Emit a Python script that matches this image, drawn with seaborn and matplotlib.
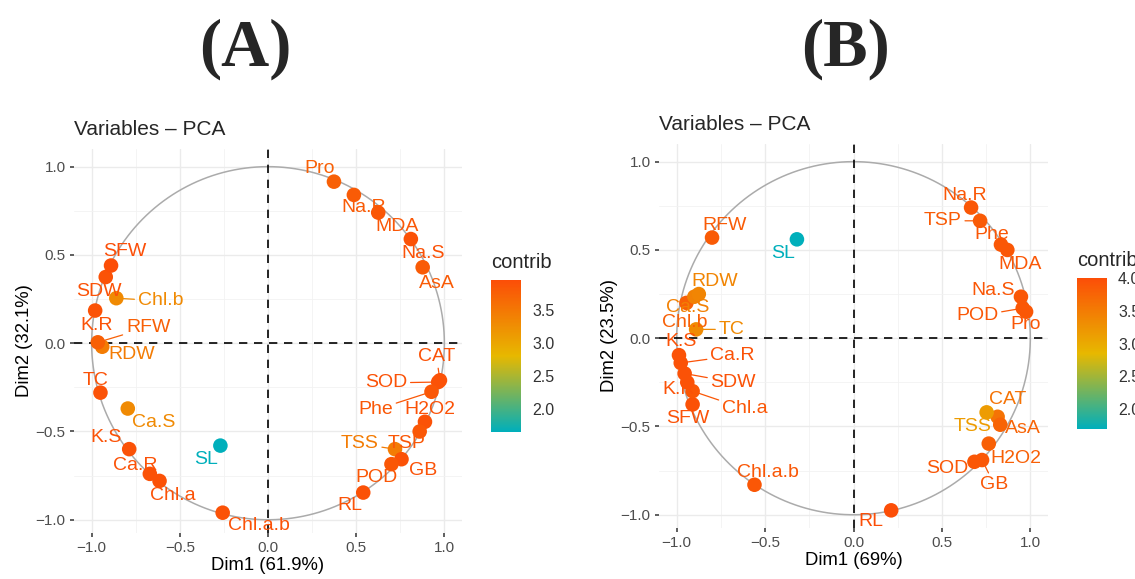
import numpy as np
import pandas as pd
import seaborn as sns
import matplotlib
matplotlib.use("Agg")
from matplotlib import pyplot as plt
from matplotlib.colors import LinearSegmentedColormap, Normalize
import matplotlib.ticker as mtick

# ---- data: panel A ----
vars_a = ["Pro", "Na.R", "MDA", "Na.S", "AsA", "CAT", "SOD", "Phe", "H2O2", "TSP",
          "TSS", "GB", "POD", "RL", "Chl.a.b", "SL", "Chl.a", "Ca.R", "K.S", "Ca.S",
          "TC", "RDW", "RFW", "K.R", "Chl.b", "SDW", "SFW"]
dim1_a = [0.374, 0.487, 0.625, 0.81, 0.877, 0.975, 0.965, 0.927, 0.89, 0.86,
          0.72, 0.757, 0.70, 0.54, -0.257, -0.27, -0.615, -0.67, -0.787, -0.795,
          -0.95, -0.94, -0.965, -0.98, -0.86, -0.92, -0.89]
dim2_a = [0.915, 0.84, 0.74, 0.59, 0.43, -0.21, -0.22, -0.275, -0.445, -0.50,
          -0.60, -0.657, -0.685, -0.846, -0.96, -0.58, -0.78, -0.74, -0.60, -0.37,
          -0.28, -0.02, 0.005, 0.185, 0.255, 0.375, 0.44]
contrib_a = [3.75, 3.8, 3.85, 3.9, 3.8, 3.9, 3.9, 3.85, 3.9, 3.85,
             3.45, 3.9, 3.85, 3.9, 3.9, 1.65, 3.9, 3.9, 3.9, 3.3,
             3.9, 3.45, 3.75, 3.9, 3.3, 3.9, 3.95]

# ---- data: panel B ----
vars_b = ["Na.R", "TSP", "Phe", "MDA", "Na.S", "POD", "Pro", "CAT", "TSS", "AsA",
          "H2O2", "SOD", "GB", "RL", "Chl.a.b", "SFW", "Chl.a", "K.R", "SDW", "Ca.R",
          "K.S", "Chl.b", "Ca.S", "RDW", "TC", "RFW", "SL"]
dim1_b = [0.665, 0.716, 0.834, 0.87, 0.947, 0.957, 0.976, 0.815, 0.753, 0.83,
          0.765, 0.684, 0.727, 0.213, -0.56, -0.91, -0.91, -0.94, -0.955, -0.977,
          -0.987, -0.945, -0.90, -0.875, -0.89, -0.80, -0.32]
dim2_b = [0.74, 0.665, 0.53, 0.50, 0.235, 0.17, 0.15, -0.445, -0.42, -0.49,
          -0.597, -0.70, -0.69, -0.975, -0.83, -0.375, -0.30, -0.25, -0.20, -0.14,
          -0.096, 0.20, 0.235, 0.25, 0.05, 0.57, 0.56]
contrib_b = [3.9, 3.85, 3.9, 3.9, 3.9, 3.9, 3.9, 3.6, 3.15, 3.75,
             3.8, 3.9, 3.9, 4.0, 3.9, 3.95, 3.9, 3.95, 3.95, 3.95,
             3.95, 3.8, 3.45, 3.4, 3.35, 3.85, 1.7]

# ---- label placement (repel-like positions) ----
lab_a = {"Pro": (0.295, 0.99), "Na.R": (0.54, 0.77), "MDA": (0.73, 0.66),
         "Na.S": (0.88, 0.51), "AsA": (0.955, 0.34), "CAT": (0.955, -0.075),
         "SOD": (0.67, -0.225), "Phe": (0.61, -0.377), "H2O2": (0.92, -0.377),
         "TSP": (0.786, -0.57), "TSS": (0.52, -0.57), "GB": (0.88, -0.72),
         "POD": (0.616, -0.76), "RL": (0.465, -0.92), "Chl.a.b": (-0.05, -1.03),
         "SL": (-0.35, -0.66), "Chl.a": (-0.54, -0.865), "Ca.R": (-0.75, -0.69),
         "K.S": (-0.92, -0.535), "Ca.S": (-0.65, -0.45), "TC": (-0.98, -0.21),
         "RDW": (-0.772, -0.066), "RFW": (-0.68, 0.09), "K.R": (-0.97, 0.10),
         "Chl.b": (-0.61, 0.24), "SDW": (-0.96, 0.295), "SFW": (-0.81, 0.517)}
seg_a = ["CAT", "SOD", "Phe", "TSS", "RFW", "Chl.b"]

lab_b = {"Na.R": (0.63, 0.81), "TSP": (0.505, 0.665), "Phe": (0.78, 0.59),
         "MDA": (0.94, 0.42), "Na.S": (0.79, 0.27), "POD": (0.70, 0.126),
         "Pro": (0.975, 0.08), "CAT": (0.87, -0.35), "TSS": (0.674, -0.50),
         "AsA": (0.957, -0.51), "H2O2": (0.92, -0.68), "SOD": (0.533, -0.74),
         "GB": (0.797, -0.83), "RL": (0.10, -1.04), "Chl.a.b": (-0.485, -0.76),
         "SFW": (-0.935, -0.455), "Chl.a": (-0.615, -0.40), "K.R": (-0.99, -0.29),
         "SDW": (-0.68, -0.25), "Ca.R": (-0.685, -0.10), "K.S": (-0.975, -0.02),
         "Chl.b": (-0.955, 0.087), "Ca.S": (-0.94, 0.175), "RDW": (-0.785, 0.32),
         "TC": (-0.69, 0.05), "RFW": (-0.73, 0.64), "SL": (-0.40, 0.48)}
seg_b = ["TSP", "POD", "GB", "Chl.a", "SDW", "Ca.R", "TC"]

sns.set_theme(style="white")
plt.rcParams["font.family"] = ["Liberation Sans", "DejaVu Sans"]

cmap = LinearSegmentedColormap.from_list("contrib", ["#00AFBB", "#E7B800", "#FC4E07"])
minus_fmt = mtick.FuncFormatter(lambda v, p: f"{v:.1f}".replace("-", "\u2212"))

fig = plt.figure(figsize=(11.35, 5.79), dpi=100)


def pca_panel(rect, cbar_rect, names, d1, d2, contrib, labels, segs,
              xlab, ylab, letter, letter_x, cticks):
    df = pd.DataFrame({"name": names, "Dim1": d1, "Dim2": d2, "contrib": contrib})
    norm = Normalize(df.contrib.min(), df.contrib.max())
    ax = fig.add_axes(rect)

    # grid like theme_minimal
    ax.set_xlim(-1.1, 1.1)
    ax.set_ylim(-1.075, 1.1)
    ax.xaxis.set_major_locator(mtick.MultipleLocator(0.5))
    ax.yaxis.set_major_locator(mtick.MultipleLocator(0.5))
    ax.xaxis.set_minor_locator(mtick.MultipleLocator(0.25))
    ax.yaxis.set_minor_locator(mtick.MultipleLocator(0.25))
    ax.grid(which="major", color="#EBEBEB", lw=1.0)
    ax.grid(which="minor", color="#F2F2F2", lw=0.6)
    ax.set_axisbelow(True)
    for s in ax.spines.values():
        s.set_visible(False)
    ax.tick_params(which="major", length=3, width=1.1, color="#333333",
                   labelsize=11, labelcolor="#4D4D4D", pad=3,
                   bottom=True, left=True)
    ax.tick_params(which="minor", length=0)
    ax.xaxis.set_major_formatter(minus_fmt)
    ax.yaxis.set_major_formatter(minus_fmt)

    t = np.linspace(0, 2 * np.pi, 400)
    ax.plot(np.cos(t), np.sin(t), color="#ABABAB", lw=1.1, zorder=1)
    ax.axhline(0, color="black", lw=1.2, ls=(0, (5, 4)), zorder=1.5)
    ax.axvline(0, color="black", lw=1.2, ls=(0, (5, 4)), zorder=1.5)

    sns.scatterplot(data=df, x="Dim1", y="Dim2", hue="contrib", palette=cmap,
                    hue_norm=norm, s=110, linewidth=0, legend=False, ax=ax, zorder=3)

    for _, r in df.iterrows():
        col = cmap(norm(r.contrib))
        lx, ly = labels[r["name"]]
        if r["name"] in segs:
            ax.annotate(r["name"], xy=(r.Dim1, r.Dim2), xytext=(lx, ly),
                        ha="center", va="center", fontsize=14, color=col, zorder=4,
                        arrowprops=dict(arrowstyle="-", color=col, lw=0.9,
                                        shrinkA=0, shrinkB=4))
        else:
            ax.text(lx, ly, r["name"], ha="center", va="center", fontsize=14,
                    color=col, zorder=4)

    ax.set_xlabel(xlab, fontsize=13.3, color="black", labelpad=1)
    ax.set_ylabel(ylab, fontsize=13.3, color="black", labelpad=2)
    ax.set_title("Variables \u2013 PCA", loc="left", fontsize=15, pad=10)

    cax = fig.add_axes(cbar_rect)
    sm = plt.cm.ScalarMappable(norm=norm, cmap=cmap)
    cb = fig.colorbar(sm, cax=cax, ticks=cticks)
    cb.outline.set_visible(False)
    cax.yaxis.set_major_formatter(mtick.FormatStrFormatter("%.1f"))
    cax.tick_params(which="both", direction="in", length=6, width=0.8,
                    color="white", left=True, right=True, labelsize=11.5,
                    labelcolor="#333333", pad=8)
    cax.minorticks_off()
    fig.text(cbar_rect[0], cbar_rect[1] + cbar_rect[3] + 0.031, "contrib",
             fontsize=14.5, ha="left", va="center")

    fig.text(letter_x, 0.915, letter, fontsize=48, fontweight="bold",
             family="Liberation Serif", ha="center", va="center")
    return ax


pca_panel([74 / 1135, 46 / 579, 388 / 1135, 384 / 579],
          [491 / 1135, 147 / 579, 30 / 1135, 152 / 579],
          vars_a, dim1_a, dim2_a, contrib_a, lab_a, seg_a,
          "Dim1 (61.9%)", "Dim2 (32.1%)", "(A)", 245 / 1135,
          [2.0, 2.5, 3.0, 3.5])

pca_panel([659 / 1135, 51 / 579, 389 / 1135, 384 / 579],
          [1077 / 1135, 150 / 579, 30 / 1135, 151 / 579],
          vars_b, dim1_b, dim2_b, contrib_b, lab_b, seg_b,
          "Dim1 (69%)", "Dim2 (23.5%)", "(B)", 845 / 1135,
          [2.0, 2.5, 3.0, 3.5, 4.0])

fig.savefig("out.png", dpi=100)
